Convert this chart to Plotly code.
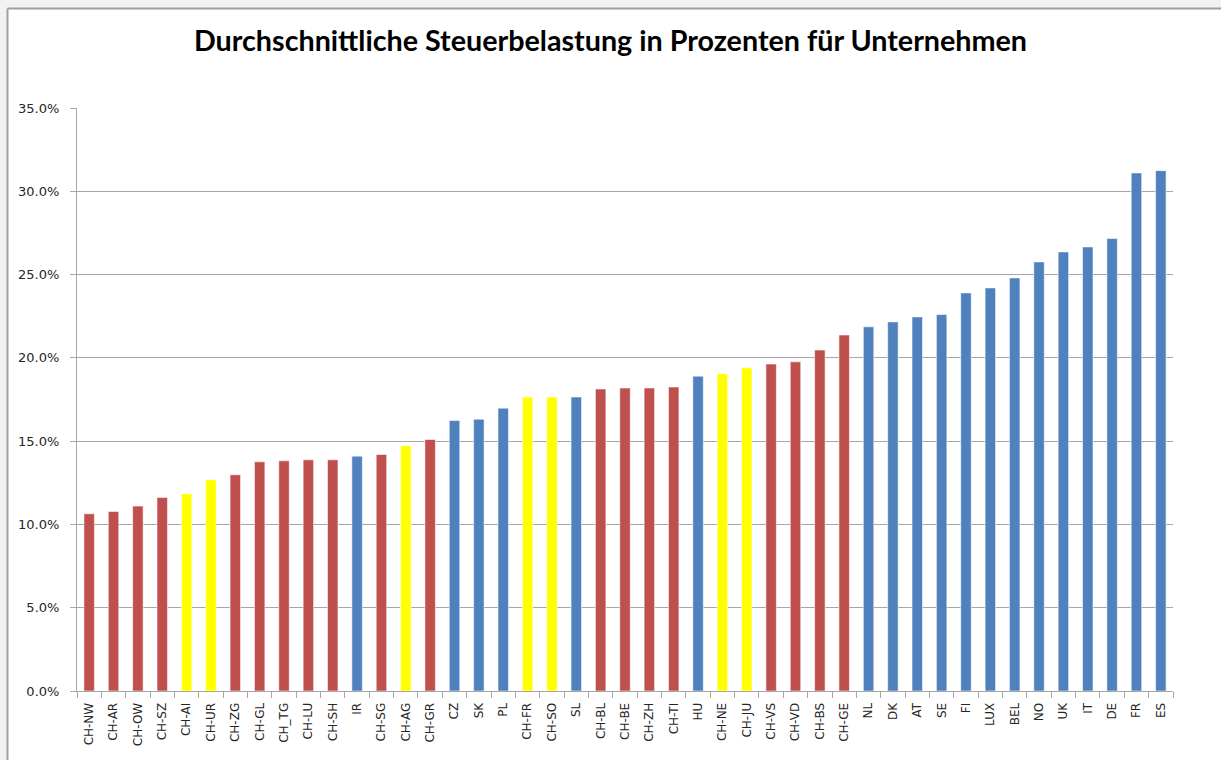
import plotly.graph_objects as go

categories = ["CH-NW", "CH-AR", "CH-OW", "CH-SZ", "CH-AI", "CH-UR", "CH-ZG", "CH-GL", "CH_TG",
              "CH-LU", "CH-SH", "IR", "CH-SG", "CH-AG", "CH-GR", "CZ", "SK", "PL", "CH-FR",
              "CH-SO", "SL", "CH-BL", "CH-BE", "CH-ZH", "CH-TI", "HU", "CH-NE", "CH-JU", "CH-VS",
              "CH-VD", "CH-BS", "CH-GE", "NL", "DK", "AT", "SE", "FI", "LUX", "BEL", "NO", "UK",
              "IT", "DE", "FR", "ES"]

values = [10.64, 10.78, 11.10, 11.62, 11.84, 12.68, 12.98, 13.76, 13.82,
          13.88, 13.88, 14.10, 14.20, 14.72, 15.10, 16.24, 16.32, 16.98, 17.65,
          17.65, 17.65, 18.13, 18.19, 18.19, 18.25, 18.90, 19.05, 19.40, 19.63,
          19.76, 20.47, 21.37, 21.86, 22.16, 22.46, 22.60, 23.90, 24.20, 24.80, 25.76, 26.36,
          26.66, 27.16, 31.10, 31.24]

highlighted = ["CH-AI", "CH-UR", "CH-AG", "CH-FR", "CH-SO", "CH-NE", "CH-JU"]

tick_values = [0, 5, 10, 15, 20, 25, 30, 35]
tick_labels = [f"{v:.1f}%" for v in tick_values]

RED = "#C0504D"
BLUE = "#4F81BD"
YELLOW = "#FFFF00"

colors = []
for c in categories:
    if c in highlighted:
        colors.append(YELLOW)
    elif c.startswith("CH"):
        colors.append(RED)
    else:
        colors.append(BLUE)

fig = go.Figure(go.Bar(
    x=categories, y=values,
    marker=dict(color=colors, line=dict(color="rgba(255,255,255,0.55)", width=1)),
    hoverinfo="x+y",
))

W, H = 1221, 760
L, R, T, B = 77, 48, 108, 69
pw, ph = W - L - R, H - T - B

def px(x):
    return (x - L) / pw

def py(y):
    return (H - B - y) / ph

fig.update_layout(
    width=W, height=H,
    margin=dict(l=L, r=R, t=T, b=B, pad=0),
    paper_bgcolor="#f2f2f2",
    plot_bgcolor="white",
    bargap=0.57,
    showlegend=False,
    title=dict(
        text="<b>Durchschnittliche Steuerbelastung in Prozenten für Unternehmen</b>",
        x=0.5, xanchor="center", y=1 - 41 / H, yanchor="middle",
        font=dict(family="Lato", size=28.7, color="#000000"),
    ),
    shapes=[
        dict(type="rect", xref="paper", yref="paper", layer="below",
             x0=px(8), x1=px(W + 10), y0=py(H + 10), y1=py(9),
             fillcolor="white", line=dict(width=0)),
        dict(type="line", xref="paper", yref="paper", layer="below",
             x0=px(7.5), x1=px(7.5), y0=py(H + 10), y1=py(8.5),
             line=dict(color="#a0a0a0", width=2)),
        dict(type="line", xref="paper", yref="paper", layer="below",
             x0=px(7.5), x1=px(W + 10), y0=py(8.5), y1=py(8.5),
             line=dict(color="#a0a0a0", width=2)),
    ],
)

fig.update_yaxes(
    range=[0, 35], tickmode="array", tickvals=tick_values, ticktext=tick_labels,
    showgrid=True, gridcolor="#a6a6a6", gridwidth=1,
    showline=True, linecolor="#a6a6a6", linewidth=1,
    ticks="outside", ticklen=6, tickcolor="#a6a6a6",
    ticklabelstandoff=8,
    tickfont=dict(family="DejaVu Sans", size=13, color="#262626"),
    zeroline=False, fixedrange=True,
)
fig.update_xaxes(
    type="category", tickangle=-90,
    showline=True, linecolor="#a6a6a6", linewidth=1,
    ticks="outside", ticklen=6, tickcolor="#a6a6a6", tickson="boundaries",
    ticklabelstandoff=6,
    tickfont=dict(family="DejaVu Sans", size=12, color="#262626"),
    showgrid=False, fixedrange=True,
)

fig.write_html(
    "out.html",
    config={"displayModeBar": False},
    post_script="document.body.style.margin='0';document.body.style.overflow='hidden';",
)
